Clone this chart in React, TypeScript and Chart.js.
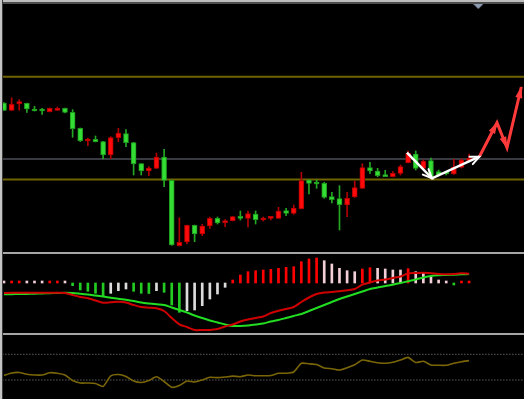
import React, { useEffect, useRef } from 'react';
import { Chart, registerables } from 'chart.js';

Chart.register(...registerables);

// ---- candle data (price units) ----
const barIndex = [0,1,2,3,4,5,6,7,8,9,10,11,12,13,14,15,16,17,18,19,20,21,22,23,24,25,26,27,28,29,30,31,32,33,34,35,36,37,38,39,40,41,42,43,44,45,46,47,48,49,50,51,52,53,54,55,56,57,58,59,60,61];
const opens = [197,189.7,196.3,196.7,191,189.7,188.3,189.7,191.7,187.7,171.7,159,160.7,158.3,145,162.3,166.3,157.3,136.3,129,131.7,143,119.7,54.3,58,74.7,66,74,81.7,77.3,79.3,83.7,81.7,86,80,81.7,81.7,89.3,86.7,91.3,120,117.7,116.7,103.3,101.3,95,103,111.7,132.3,129,125,123.3,126.7,137.3,146,131.7,139.3,128.3,127,126,132.7,139.3];
const closes = [189.7,195.7,198,191,189,189,191.7,191.7,187.7,171.3,159.3,161,158.3,145,162.3,167,157.3,136,129,132,143,119.7,55,57.7,74.7,66,74,81.7,77,78.7,83.3,81.7,86.3,80.3,82,83,89,86.7,92,119.3,116.7,116,102.7,100.3,95.3,101.7,112.3,132.3,129,124.3,123.3,126.7,133.3,146.7,131.7,139,122.5,125,126,132.7,140,141.7];
const highs = [197.5,202.3,200.3,197,193.7,191.7,192,193,192,190.3,172,161.7,164,158.7,163.3,171.7,170.3,157.7,136.3,133.3,147,150.7,120,82.3,75,75,75.7,83,83,80.3,83.5,89,89,89,83,83.3,92.7,91.7,95,127.7,120.5,120,117.7,107.7,114.3,107.7,119,136.3,137.7,131.7,129.7,128.3,135,149,149,140,142,130,128,140.7,141,146];
const lows = [189.5,189.5,189.7,187.7,189,185.7,188,189.7,187,162.7,158.3,154.3,158,141,141.3,158.3,153.3,125,125,124.3,131.5,113.3,54.7,54,56.3,58.3,64.3,71.7,76,73.3,79,80,73,76,79,80,81.5,84.3,85.7,91,106,111.7,101.7,97,70,83.3,102.5,111.5,126.7,123.3,123.3,123,125,137,130,131,121.7,124,125,125.5,132,139];

// horizontal levels in the price panel
const levelPrices = [223.3, 141, 120.5];
const levelColors = ['#706400', '#3a3a42', '#706400'];

// hand-drawn arrows (bar index, price)
const swingArrowX = [52.85, 56.13, 62.34];
const swingArrowY = [147.3, 121.7, 143.3];
const projectionX = [62.34, 64.66, 65.97, 67.85];
const projectionY = [143.3, 177.3, 152.3, 213];
const markerX = [62.2];
const markerY = [293.5];

// ---- MACD panel ----
const macdHist = [0.5,1,1.3,0.7,0.5,0.5,0.7,1,0.7,-2.7,-7,-8.3,-10.3,-12.7,-10.3,-7.7,-6,-8.3,-10.3,-10.5,-7.7,-9.3,-22,-29.3,-27.7,-27,-22.7,-16,-11,-4.3,3,8,11.3,12.3,13,13.7,14.7,15.7,16.3,21.3,24,25,22.3,19,14.7,12.3,11.3,14,15.3,14.7,14,13,13,14.3,11.3,9.7,6.3,3,0.3,-0.3,0.3,0.4];
const macdFast = [-10,-9.7,-9.7,-9.7,-9.7,-9.7,-9.7,-9.7,-10,-12,-14,-15.3,-17.5,-19.7,-19.3,-18.7,-19.5,-22,-24,-24.7,-25.3,-28,-35,-41.3,-44,-47,-47,-47,-46,-43.5,-41.5,-38.5,-36.5,-35,-33.5,-30,-27.7,-26,-24,-19,-14.5,-11,-9.5,-9,-8.3,-7.3,-6,-1.7,0.5,2.5,3.5,5,6.5,9.5,10,10.3,9.7,9,8.7,9,9.7,9.3];
const macdSignal = [-11.3,-11.2,-11,-10.9,-10.7,-10.5,-10.2,-10,-9.8,-10,-10.7,-11.5,-12.5,-13.5,-14.7,-15.8,-16.8,-18,-19.5,-20.5,-21.3,-22,-24.5,-27,-29.5,-32.5,-35,-37.5,-39.5,-41.5,-43,-43,-42.5,-41.5,-40.5,-38.5,-37,-35,-33,-31,-28,-25,-22,-19,-16,-13.5,-11,-8.5,-6,-4.5,-3,-1.7,0,1.8,3.5,5.5,7,7.7,8,8.3,8.7,9];

// ---- oscillator panel ----
const oscValues = [24.5,27,27.5,25.7,25,25,27.3,26.8,25,19.5,17,17,16.5,13.5,24.2,25.5,23.5,19,17.5,19.5,23.2,18.5,12.7,14.5,19,18,20,22.7,22.4,23,23.9,23.3,25,24.2,24.3,24.5,26.7,26.7,28,36.7,36.2,35.4,32,31.3,30,32.3,35.3,40,38.7,37.3,36.7,37.8,40,42.6,37.5,38.7,35,34.7,34.7,36.7,38.3,39.4];
const oscLevels = [45.7, 20];

const X_MIN = -0.13;
const X_MAX = 68.2;

const arrowPlugin = {
  id: 'arrowheads',
  afterDatasetsDraw(chart: any) {
    const ctx = chart.ctx;
    chart.data.datasets.forEach((ds: any, di: number) => {
      if (!ds.arrowStyle) return;
      const pts = chart.getDatasetMeta(di).data;
      for (let k = 1; k < pts.length; k++) {
        const p0 = pts[k - 1];
        const p1 = pts[k];
        const ang = Math.atan2(p1.y - p0.y, p1.x - p0.x);
        ctx.save();
        ctx.translate(p1.x, p1.y);
        ctx.rotate(ang);
        if (ds.arrowStyle === 'filled') {
          ctx.fillStyle = ds.borderColor;
          ctx.beginPath();
          ctx.moveTo(1, 0);
          ctx.lineTo(-11, -3.5);
          ctx.lineTo(-11, 3.5);
          ctx.closePath();
          ctx.fill();
        } else {
          ctx.strokeStyle = ds.borderColor;
          ctx.lineWidth = 2;
          ctx.lineCap = 'round';
          ctx.beginPath();
          ctx.moveTo(-9, -4);
          ctx.lineTo(0, 0);
          ctx.lineTo(-9, 4);
          ctx.stroke();
        }
        ctx.restore();
      }
    });
  },
};

function makeMarker() {
  const c = document.createElement('canvas');
  c.width = 10;
  c.height = 5;
  const g = c.getContext('2d')!;
  g.fillStyle = '#8e9cb2';
  g.beginPath();
  g.moveTo(0, 0);
  g.lineTo(10, 0);
  g.lineTo(5, 5);
  g.closePath();
  g.fill();
  return c;
}

const baseOptions = (yMin: number, yMax: number) => ({
  animation: false as const,
  responsive: false,
  events: [] as any[],
  layout: { padding: 0, autoPadding: false },
  plugins: { legend: { display: false }, tooltip: { enabled: false } },
  scales: {
    x: { type: 'linear' as const, min: X_MIN, max: X_MAX, display: false, offset: false, grid: { offset: false } },
    y: { type: 'linear' as const, min: yMin, max: yMax, display: false },
  },
});

function buildMain(canvas: HTMLCanvasElement) {
  const up = barIndex.map((_, i) => closes[i] >= opens[i]);
  const levelSets = levelPrices.map((p, i) => ({
    type: 'line' as const,
    data: [{ x: -1, y: p }, { x: 70, y: p }],
    borderColor: levelColors[i],
    borderWidth: 2,
    pointRadius: 0,
    order: 10,
  }));
  return new Chart(canvas, {
    type: 'bar',
    data: {
      datasets: [
        ...levelSets,
        {
          type: 'bar',
          data: barIndex.map((x, i) => ({ x, y: [lows[i], highs[i]] })),
          backgroundColor: up.map((u) => (u ? '#b00000' : '#24a824')),
          barThickness: 1,
          grouped: false,
          order: 6,
        } as any,
        {
          type: 'bar',
          data: barIndex.map((x, i) => ({ x, y: [opens[i], closes[i]] })),
          backgroundColor: up.map((u) => (u ? '#ff0a0a' : '#33dd33')),
          borderColor: up.map((u) => (u ? '#b40000' : '#1f9a1f')),
          borderWidth: 1,
          borderSkipped: false,
          barThickness: 5,
          minBarLength: 2,
          grouped: false,
          order: 5,
        } as any,
        {
          type: 'line',
          data: swingArrowX.map((x, i) => ({ x, y: swingArrowY[i] })),
          borderColor: '#ffffff',
          borderWidth: 2.5,
          pointRadius: 0,
          arrowStyle: 'open',
          order: 2,
        } as any,
        {
          type: 'line',
          data: projectionX.map((x, i) => ({ x, y: projectionY[i] })),
          borderColor: '#ff3a3a',
          borderWidth: 3,
          pointRadius: 0,
          arrowStyle: 'filled',
          order: 2,
        } as any,
        {
          type: 'line',
          data: markerX.map((x, i) => ({ x, y: markerY[i] })),
          showLine: false,
          pointStyle: makeMarker(),
          pointRadius: 5,
          order: 1,
        } as any,
      ],
    },
    options: baseOptions(48, 296) as any,
    plugins: [arrowPlugin],
  });
}

function buildMacd(canvas: HTMLCanvasElement) {
  const colors = macdHist.map((v, i) => {
    const prev = i > 0 ? macdHist[i - 1] : v;
    if (v >= 0) return v > prev ? '#ff0000' : '#f2cfd6';
    return v < prev ? '#22cc22' : '#dcdcdc';
  });
  return new Chart(canvas, {
    type: 'bar',
    data: {
      datasets: [
        {
          type: 'line',
          data: barIndex.map((x, i) => ({ x, y: macdFast[i] })),
          borderColor: '#d00000',
          borderWidth: 2,
          pointRadius: 0,
          tension: 0.3,
          order: 1,
        } as any,
        {
          type: 'line',
          data: barIndex.map((x, i) => ({ x, y: macdSignal[i] })),
          borderColor: '#22dd22',
          borderWidth: 2,
          pointRadius: 0,
          tension: 0.3,
          order: 1,
        } as any,
        {
          type: 'bar',
          data: barIndex.map((x, i) => ({ x, y: macdHist[i] })),
          backgroundColor: colors,
          barThickness: 2,
          minBarLength: 2,
          grouped: false,
          order: 3,
        } as any,
      ],
    },
    options: baseOptions(-50, 29) as any,
  });
}

function buildOsc(canvas: HTMLCanvasElement) {
  const levelSets = oscLevels.map((p) => ({
    type: 'line' as const,
    data: [{ x: -1, y: p }, { x: 70, y: p }],
    borderColor: '#8a8a8a',
    borderWidth: 1,
    borderDash: [1, 2],
    pointRadius: 0,
    order: 5,
  }));
  return new Chart(canvas, {
    type: 'line',
    data: {
      datasets: [
        ...levelSets,
        {
          data: barIndex.map((x, i) => ({ x, y: oscValues[i] })),
          borderColor: '#7a6608',
          borderWidth: 1.6,
          pointRadius: 0,
          tension: 0.2,
          order: 1,
        },
      ],
    },
    options: baseOptions(1, 65) as any,
  });
}

export default function App() {
  const mainRef = useRef<HTMLCanvasElement>(null);
  const macdRef = useRef<HTMLCanvasElement>(null);
  const oscRef = useRef<HTMLCanvasElement>(null);

  useEffect(() => {
    const charts = [
      buildMain(mainRef.current!),
      buildMacd(macdRef.current!),
      buildOsc(oscRef.current!),
    ];
    return () => charts.forEach((c) => c.destroy());
  }, []);

  const abs = (l: number, t: number, w: number, h: number, bg?: string): React.CSSProperties => ({
    position: 'absolute', left: l, top: t, width: w, height: h, background: bg, display: 'block',
  });

  return (
    <div style={{ position: 'fixed', left: 0, top: 0, width: 524, height: 399, background: '#000', overflow: 'hidden' }}>
      <canvas ref={mainRef} width={521} height={248} style={abs(3, 4, 521, 248)} />
      <canvas ref={macdRef} width={521} height={79} style={abs(3, 254, 521, 79)} />
      <canvas ref={oscRef} width={521} height={64} style={abs(3, 335, 521, 64)} />
      <div style={abs(0, 0, 524, 2, '#bdbdbd')} />
      <div style={abs(0, 2, 524, 2, '#4c4c4c')} />
      <div style={abs(0, 252, 524, 2, '#a6a6a6')} />
      <div style={abs(0, 333, 524, 2, '#a6a6a6')} />
      <div style={abs(0, 0, 2, 399, '#c4c4c4')} />
      <div style={abs(2, 0, 1, 399, '#3a3a3a')} />
    </div>
  );
}
